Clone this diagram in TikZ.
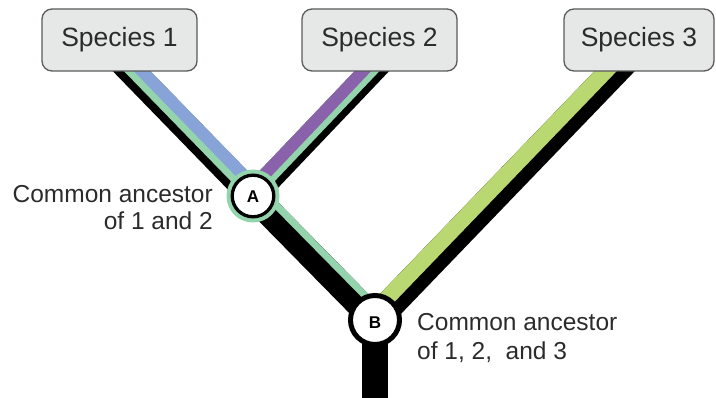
\documentclass[tikz,border=0pt]{standalone}
\usepackage{fontspec}
\setmainfont{Liberation Sans}
\usetikzlibrary{calc,backgrounds}
\definecolor{blu}{HTML}{87A3D8}
\definecolor{mint}{HTML}{93D4AC}
\definecolor{purp}{HTML}{8A62AC}
\definecolor{lime}{HTML}{B9D872}
\definecolor{boxfill}{HTML}{E6E7E7}
\definecolor{boxline}{HTML}{5A5A5A}
\definecolor{txt}{HTML}{2B2B2B}
\newcommand\bandline[5]{%
  \draw[line width=#4, #5] ($(#1)!#3!90:(#2)$) -- ($(#2)!#3!-90:(#1)$);}
\frenchspacing
\begin{document}
\begin{tikzpicture}[x=1pt,y=-1pt,
  species/.style={draw=boxline, line width=1.3pt, fill=boxfill, rounded corners=10pt,
    minimum height=62pt, font=\fontsize{26.5}{30}\selectfont, text=txt, inner sep=0pt},
  anc/.style={circle, fill=white, draw=black, inner sep=0pt, text=black,
    font=\fontsize{17}{20}\selectfont\bfseries},
  lbl/.style={font=\fontsize{24.5}{28}\selectfont, text=txt, inner sep=0pt},
]
\useasboundingbox (0,0) rectangle (716,398);
% species boxes
\node[species, minimum width=155pt] (sp1) at (119.5,40) {Species 1};
\node[species, minimum width=155pt] (sp2) at (379.5,40) {Species 2};
\node[species, minimum width=150pt] (sp3) at (639,40) {Species 3};
% ancestors
\node[anc, minimum size=41.6pt, line width=3.3pt] (A) at (253,196) {};
\node[anc, minimum size=49pt, line width=5pt] (B) at (375,320) {};
\node[text=black, font=\fontsize{17}{20}\selectfont\bfseries, inner sep=0pt] (Alab) at (253,197) {A};
\node[text=black, font=\fontsize{17}{20}\selectfont\bfseries, inner sep=0pt] (Blab) at (375,323) {B};
% line ends
\coordinate (t1) at (111,50);
\coordinate (t2) at (392,50);
\coordinate (t3) at (635,50);
\coordinate (root) at (375,398);
% labels
\node[lbl, anchor=base east] (la1) at (213,203) {Common ancestor};
\node[lbl, anchor=base east] (la2) at (213,230) {of 1 and 2};
\node[lbl, anchor=base west] (lb1) at (417,331) {Common ancestor};
\node[lbl, anchor=base west] (lb2) at (417,360) {of 1, 2,\ \ and 3};
\begin{scope}[on background layer]
  % species 1 branch
  \bandline{t1}{A}{0pt}{27pt}{black}
  \bandline{t1}{A}{4pt}{19pt}{mint}
  \bandline{t1}{A}{7.5pt}{12pt}{blu}
  % species 2 branch
  \bandline{t2}{A}{0pt}{25pt}{black}
  \bandline{t2}{A}{-3.5pt}{18pt}{mint}
  \bandline{t2}{A}{-6.5pt}{12pt}{purp}
  % A to B
  \bandline{A}{B}{0pt}{27pt}{black}
  \bandline{A}{B}{10pt}{7pt}{mint}
  % species 3 branch
  \bandline{t3}{B}{0pt}{29pt}{black}
  \bandline{t3}{B}{-6.5pt}{16pt}{lime}
  % trunk
  \draw[line width=26pt, black] (B.center) -- (root);
  % green ring of A
  \fill[mint] (A.center) circle[radius=26.5pt];
\end{scope}
\end{tikzpicture}
\end{document}
